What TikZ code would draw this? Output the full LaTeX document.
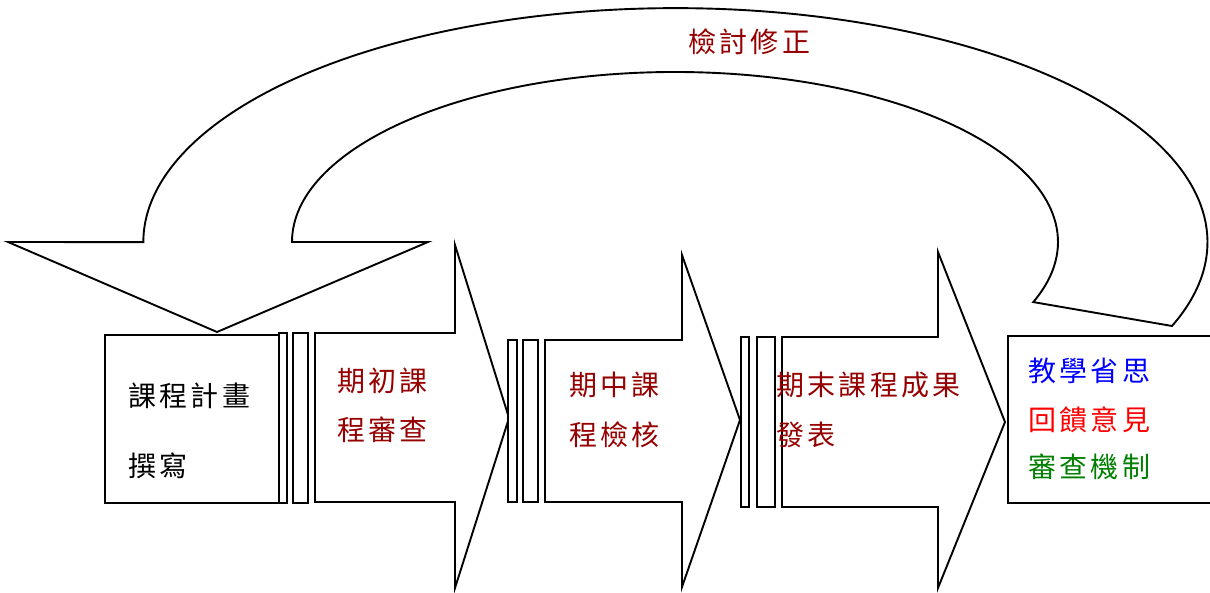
\documentclass[tikz,border=0pt]{standalone}
\usepackage{fontspec}
\newfontfamily\cjk[LetterSpace=12]{Noto Sans CJK TC}
\usepackage{xcolor}
\usetikzlibrary{positioning}
\definecolor{darkred}{RGB}{150,0,0}
\definecolor{darkgreen}{RGB}{0,128,0}

\begin{document}
\begin{tikzpicture}[x=1pt, y=1pt,
        blockarrow/.style={draw, line width=1.9pt, line join=miter, fill=white},
        box/.style={rectangle, draw, line width=1.9pt, fill=white},
        sepbar/.style={draw, line width=1.9pt, fill=white},
        txt/.style={anchor=west, inner sep=0pt, font=\cjk\fontsize{28}{30}\selectfont}
    ]
        \useasboundingbox (0,0) rectangle (1210,593);
        \clip (0,0) rectangle (1210,593);

        % feedback loop
        \draw[blockarrow] (8,351) -- (217,261) -- (428,351) -- (292,351)
            arc[start angle=180, end angle=-20.7, x radius=383, y radius=170]
            -- (1172,267)
            arc[start angle=-21, end angle=180, x radius=532, y radius=234]
            -- cycle;
        \node[txt, text=darkred] (revise) at (688,551) {檢討修正};

        % boxes
        \node[box, minimum width=174pt, minimum height=168pt] (plan) at (192,174) {};
        \node[box, anchor=north west, minimum width=210pt, minimum height=167pt] (reflect) at (1007,258) {};

        % stage arrows
        \draw[blockarrow] (315,260) -- (455,260) -- (455,348) -- (509,175) -- (455,5) -- (455,91) -- (315,91) -- cycle;
        \draw[blockarrow] (545,253) -- (682,253) -- (682,338) -- (740,173) -- (682,6) -- (682,91) -- (545,91) -- cycle;
        \draw[blockarrow] (782,256) -- (938,256) -- (938,341) -- (1005,171) -- (938,5) -- (938,86) -- (782,86) -- cycle;

        \foreach \xa/\xb/\ytop/\ybot in {279/287/260/90, 293/308/260/90, 508/517/253/91, 523/538/253/91, 741/749/256/86, 757/775/256/86}
            \draw[sepbar] (\xa,\ytop) rectangle (\xb,\ybot);

        % texts
        \node[txt] (plan1) at (128,197) {課程計畫};
        \node[txt] (plan2) at (128,127) {撰寫};
        \node[txt, text=darkred] (early1) at (337,212) {期初課};
        \node[txt, text=darkred] (early2) at (337,163) {程審查};
        \node[txt, text=darkred] (mid1) at (569,208) {期中課};
        \node[txt, text=darkred] (mid2) at (569,158) {程檢核};
        \node[txt, text=darkred] (final1) at (776,208) {期末課程成果};
        \node[txt, text=darkred] (final2) at (776,158) {發表};
        \node[txt, text=blue] (reflect1) at (1028,222) {教學省思};
        \node[txt, text=red] (reflect2) at (1028,173) {回饋意見};
        \node[txt, text=darkgreen] (reflect3) at (1028,126) {審查機制};
    \end{tikzpicture}
\end{document}
